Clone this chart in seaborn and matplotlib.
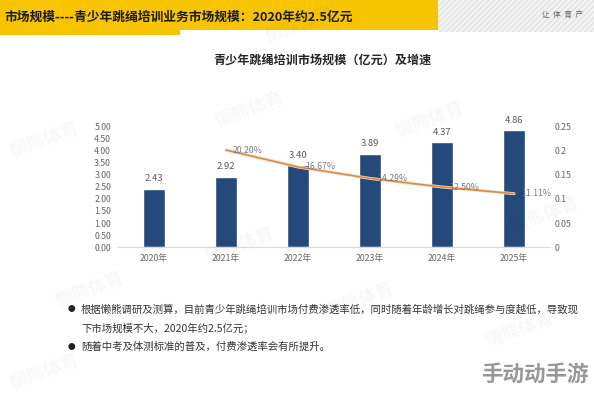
import matplotlib
matplotlib.use("Agg")
import matplotlib.pyplot as plt
import seaborn as sns
import pandas as pd
from matplotlib.patches import Rectangle

# data
years = ["2020年", "2021年", "2022年", "2023年", "2024年", "2025年"]
market_size = [2.43, 2.92, 3.40, 3.89, 4.37, 4.86]
growth_years = ["2021年", "2022年", "2023年", "2024年", "2025年"]
growth_rate = [0.2020, 0.1667, 0.1429, 0.1250, 0.1111]
left_ticks = [0, 0.5, 1.0, 1.5, 2.0, 2.5, 3.0, 3.5, 4.0, 4.5, 5.0]
right_ticks = [0, 0.05, 0.1, 0.15, 0.2, 0.25]
right_labels = ["0", "0.05", "0.1", "0.15", "0.2", "0.25"]

header = "市场规模----青少年跳绳培训业务市场规模：2020年约2.5亿元"
chart_title = "青少年跳绳培训市场规模（亿元）及增速"
bullets = [
    "根据懒熊调研及测算，目前青少年跳绳培训市场付费渗透率低，同时随着年龄增长对跳绳参与度越低，导致现",
    "下市场规模不大，2020年约2.5亿元；",
    "随着中考及体测标准的普及，付费渗透率会有所提升。",
]

sns.set_theme(style="white")
plt.rcParams["font.family"] = ["Noto Sans CJK SC", "DejaVu Sans"]

W, H = 594, 394
fig = plt.figure(figsize=(W / 100, H / 100), dpi=100)
fig.patch.set_facecolor("white")


# helper: pixel coords (from top-left) -> figure fraction
def px(x, y):
    return x / W, 1 - y / H


# faint background watermarks
for wx, wy in [(45, 140), (240, 245), (430, 120), (545, 215), (90, 290),
               (360, 300), (520, 330), (45, 372), (250, 110), (300, 25)]:
    fig.text(*px(wx, wy), "懒熊体育", fontsize=13, color="black", alpha=0.03,
             rotation=20, ha="center", va="center", fontweight="bold")

# header band
fig.patches.append(Rectangle(px(438, 32), 156 / W, 32 / H, transform=fig.transFigure,
                             facecolor="#F3F3F3", edgecolor="#E2E2E2", hatch="//////",
                             lw=0, zorder=0))
fig.patches.append(Rectangle(px(0, 30), 438 / W, 30 / H, transform=fig.transFigure,
                             facecolor="#F6C400", lw=0, zorder=1))
fig.patches.append(Rectangle(px(0, 35), 180 / W, 5 / H, transform=fig.transFigure,
                             facecolor="#F6C400", lw=0, zorder=1))
fig.text(*px(4, 17), header, fontsize=9.2, fontweight="bold", color="#1a1a1a",
         ha="left", va="center")
fig.text(*px(562, 15), "让  体  育  产", fontsize=5.5, color="#666666", ha="center", va="center")

fig.text(*px(322, 60), chart_title, fontsize=8.7, fontweight="bold", color="#262626",
         ha="center", va="center")

# main chart
ax = fig.add_axes([118 / W, 1 - 247 / H, 432 / W, 120 / H])
df = pd.DataFrame({"year": years, "size": market_size})
sns.barplot(data=df, x="year", y="size", color="#24497A", saturation=1, width=0.3, ax=ax)
ax.set_xlim(-0.5, 5.5)
ax.set_ylim(0, 5)
ax.set_yticks(left_ticks)
ax.set_yticklabels([f"{t:.2f}" for t in left_ticks])
ax.set_xlabel("")
ax.set_ylabel("")
ax.tick_params(axis="y", labelsize=6.3, colors="#666666", pad=5, length=0)
ax.tick_params(axis="x", labelsize=6.3, colors="#666666", pad=5, length=0)
for s in ["top", "right", "left"]:
    ax.spines[s].set_visible(False)
ax.spines["bottom"].set_color("#D9D9D9")
ax.spines["bottom"].set_linewidth(0.8)
ax.patch.set_alpha(0)

for i, v in enumerate(market_size):
    ax.annotate(f"{v:.2f}", (i, v), xytext=(0, 4), textcoords="offset points",
                ha="center", va="bottom", fontsize=6.8, color="#595959")

ax2 = ax.twinx()
gx = [years.index(y) for y in growth_years]
gdf = pd.DataFrame({"x": gx, "g": growth_rate})
sns.lineplot(data=gdf, x="x", y="g", ax=ax2, color="#F8D6B4", lw=2.2)
sns.lineplot(data=gdf, x="x", y="g", ax=ax2, color="#D98A45", lw=1.1)
ax2.set_ylim(0, 0.25)
ax2.set_yticks(right_ticks)
ax2.set_yticklabels(right_labels)
ax2.set_ylabel("")
ax2.tick_params(axis="y", labelsize=6.3, colors="#666666", pad=3, length=0)
for s in ["top", "right", "left", "bottom"]:
    ax2.spines[s].set_visible(False)

for x, g in zip(gx, growth_rate):
    ax2.annotate(f"{g * 100:.2f}%", (x, g), xytext=(5, 0), textcoords="offset points",
                 ha="left", va="center", fontsize=6.3, color="#7a7a7a")

# bullet text
fig.text(*px(71, 309), "●", fontsize=5.5, color="#222222", ha="center", va="center")
fig.text(*px(81, 309), bullets[0], fontsize=7.5, color="#333333", ha="left", va="center")
fig.text(*px(81, 328), bullets[1], fontsize=7.5, color="#333333", ha="left", va="center")
fig.text(*px(71, 347), "●", fontsize=5.5, color="#222222", ha="center", va="center")
fig.text(*px(81, 347), bullets[2], fontsize=7.5, color="#333333", ha="left", va="center")

# site watermark bottom-right
fig.text(*px(535, 374), "手动动手游", fontsize=15.5, fontweight="bold", color="#8C8C8C",
         alpha=0.9, ha="center", va="center")

fig.savefig("out.png", dpi=100)
